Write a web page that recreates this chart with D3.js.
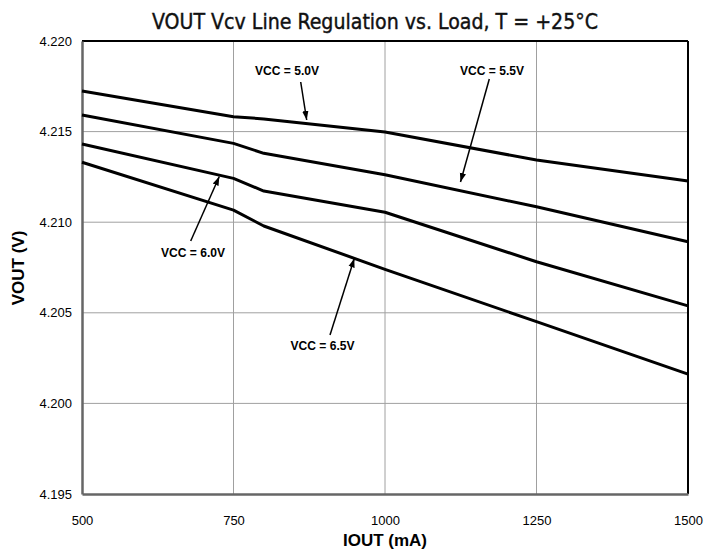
<!DOCTYPE html>
<html>
<head>
<meta charset="utf-8">
<script src="https://cdn.jsdelivr.net/npm/d3@7"></script>
<style>
  body { margin: 0; background: #fff; }
  svg { display: block; }
</style>
</head>
<body>
<div id="chart"></div>
<script>
"use strict";

// load current (mA) sample points
const iout = [500, 750, 800, 1000, 1250, 1500];

// VOUT (V) per supply voltage
const vcc50 = [4.21724, 4.21582, 4.2157, 4.21498, 4.21343, 4.21227];
const vcc55 = [4.21592, 4.21435, 4.2138, 4.21262, 4.21085, 4.20892];
const vcc60 = [4.21432, 4.21242, 4.21172, 4.21055, 4.20782, 4.20538];
const vcc65 = [4.21331, 4.21067, 4.20979, 4.2074, 4.20451, 4.20162];

const seriesNames = ["VCC = 5.0V", "VCC = 5.5V", "VCC = 6.0V", "VCC = 6.5V"];
const xTicks = [500, 750, 1000, 1250, 1500];
const yTicks = [4.195, 4.2, 4.205, 4.21, 4.215, 4.22];

const font = "'Liberation Sans', Arial, sans-serif";

const W = 722, H = 552;
const margin = { top: 41, right: 34, bottom: 58, left: 82 };
const width = W - margin.left - margin.right,
  height = H - margin.top - margin.bottom;

const svg = d3.select("#chart").append("svg")
  .attr("width", W).attr("height", H)
  .style("font-family", font);

const g = svg.append("g")
  .attr("transform", `translate(${margin.left},${margin.top})`);

const x = d3.scaleLinear().domain([500, 1500]).range([0, width]);
const y = d3.scaleLinear().domain([4.195, 4.22]).range([height, 0]);

// grid
g.append("g").selectAll("line").data(xTicks.slice(1, -1)).join("line")
  .attr("x1", d => x(d)).attr("x2", d => x(d))
  .attr("y1", 0).attr("y2", height)
  .attr("stroke", "#a0a0a0").attr("stroke-width", 1);
g.append("g").selectAll("line").data(yTicks.slice(1, -1)).join("line")
  .attr("y1", d => y(d)).attr("y2", d => y(d))
  .attr("x1", 0).attr("x2", width)
  .attr("stroke", "#a0a0a0").attr("stroke-width", 1);

// frame: top/right black, left/bottom gray
g.append("line").attr("x1", 0).attr("x2", width).attr("y1", 0).attr("y2", 0)
  .attr("stroke", "#000").attr("stroke-width", 2);
g.append("line").attr("x1", width).attr("x2", width).attr("y1", 0).attr("y2", height)
  .attr("stroke", "#000").attr("stroke-width", 2);

// axes
const xAxis = g.append("g")
  .attr("transform", `translate(0,${height})`)
  .call(d3.axisBottom(x).tickValues(xTicks).tickSize(0).tickPadding(22).tickFormat(d3.format("d")));
const yAxis = g.append("g")
  .call(d3.axisLeft(y).tickValues(yTicks).tickSize(0).tickPadding(10).tickFormat(d3.format(".3f")));

[xAxis, yAxis].forEach(a => {
  a.attr("font-family", null);
  a.select(".domain").attr("stroke", "#666").attr("stroke-width", 2.5);
  a.selectAll("text").attr("font-size", 13).attr("fill", "#000")
    .style("font-family", font);
});

// lines
const line = d3.line().x((d, i) => x(iout[i])).y(d => y(d));
g.append("g").selectAll("path").data([vcc50, vcc55, vcc60, vcc65]).join("path")
  .attr("d", line)
  .attr("fill", "none")
  .attr("stroke", "#000")
  .attr("stroke-width", 3)
  .attr("stroke-linejoin", "round");

// annotation arrows
svg.append("defs").append("marker")
  .attr("id", "arrow").attr("viewBox", "0 0 10 10")
  .attr("refX", 10).attr("refY", 5)
  .attr("markerWidth", 9).attr("markerHeight", 9)
  .attr("markerUnits", "userSpaceOnUse")
  .attr("orient", "auto")
  .append("path").attr("d", "M0,1.5 L10,5 L0,8.5 Z").attr("fill", "#000");

const notes = [
  { text: seriesNames[0], tx: 287, ty: 70.7, x1: 300.7, y1: 82, x2: 306.7, y2: 120 },
  { text: seriesNames[1], tx: 492, ty: 70.7, x1: 489.3, y1: 79, x2: 460.5, y2: 182 },
  { text: seriesNames[2], tx: 193, ty: 252.3, x1: 190.7, y1: 241, x2: 219.3, y2: 176.5 },
  { text: seriesNames[3], tx: 322.5, ty: 345.7, x1: 330, y1: 335, x2: 354.3, y2: 258.5 }
];
const ann = svg.append("g");
ann.selectAll("line").data(notes).join("line")
  .attr("x1", d => d.x1).attr("y1", d => d.y1)
  .attr("x2", d => d.x2).attr("y2", d => d.y2)
  .attr("stroke", "#000").attr("stroke-width", 1.5)
  .attr("marker-end", "url(#arrow)");
ann.selectAll("text").data(notes).join("text")
  .attr("x", d => d.tx).attr("y", d => d.ty)
  .attr("dy", "0.35em")
  .attr("text-anchor", "middle")
  .attr("font-size", 12).attr("font-weight", "bold")
  .attr("textLength", 64).attr("lengthAdjust", "spacingAndGlyphs")
  .text(d => d.text);

// titles
svg.append("text")
  .attr("x", 375).attr("y", 29)
  .attr("text-anchor", "middle")
  .attr("font-size", 22)
  .attr("fill", "#111")
  .attr("stroke", "#111").attr("stroke-width", 0.4)
  .attr("textLength", 446).attr("lengthAdjust", "spacingAndGlyphs")
  .style("font-family", "'Liberation Sans Narrow', 'DejaVu Sans Condensed', sans-serif")
  .text("VOUT Vcv Line Regulation vs. Load, T = +25\u00B0C");

svg.append("text")
  .attr("x", 385).attr("y", 546)
  .attr("text-anchor", "middle")
  .attr("font-size", 17).attr("font-weight", "bold")
  .text("IOUT (mA)");

svg.append("text")
  .attr("transform", "translate(24,268) rotate(-90)")
  .attr("text-anchor", "middle")
  .attr("font-size", 17).attr("font-weight", "bold")
  .text("VOUT (V)");
</script>
</body>
</html>
